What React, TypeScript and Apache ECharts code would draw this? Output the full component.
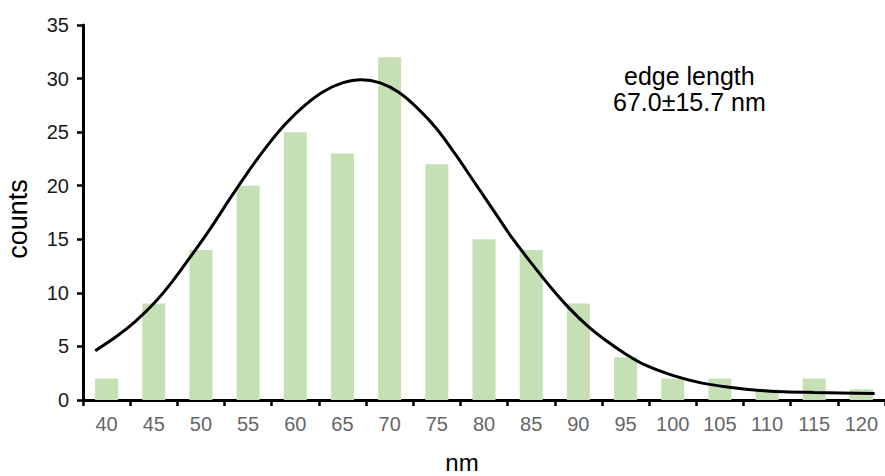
import React, { useEffect, useRef } from "react";
import * as echarts from "echarts";

// Histogram bins (nm) and counts per bin
const binLabels = ["40", "45", "50", "55", "60", "65", "70", "75", "80", "85", "90", "95", "100", "105", "110", "115", "120"];
const binCounts = [2, 9, 14, 20, 25, 23, 32, 22, 15, 14, 9, 4, 2, 2, 1, 2, 1];

// Fitted distribution curve: edge length (nm) and counts
const fitX = [38.8, 41, 43, 45, 47, 49, 51, 53, 55, 57, 59, 61, 63, 65, 67, 69, 71, 73, 75, 77, 79, 81, 83, 85, 87, 89, 91, 93, 95, 97, 100, 103, 106, 110, 115, 121.4];
const fitY = [4.6, 5.9, 7.3, 9.0, 11.1, 13.5, 16.0, 18.7, 21.3, 23.7, 25.8, 27.5, 28.8, 29.6, 29.9, 29.6, 28.7, 27.2, 25.3, 22.9, 20.3, 17.7, 15.1, 12.8, 10.6, 8.6, 6.9, 5.5, 4.3, 3.3, 2.3, 1.6, 1.2, 0.85, 0.7, 0.6];

const yTicks = { min: 0, max: 35, interval: 5 };
const annotation = ["edge length", "67.0\u00B115.7 nm"];

const FONT = "'Liberation Sans', Arial, sans-serif";

export default function App() {
  const ref = useRef<HTMLDivElement>(null);

  useEffect(() => {
    if (!ref.current) return;
    const chart = echarts.init(ref.current, undefined, { renderer: "svg" });

    const fitData = fitX.map((x, i) => [x, fitY[i]]);

    chart.setOption({
      animation: false,
      grid: { left: 83, top: 25, right: -6, bottom: 76, containLabel: false },
      xAxis: [
        {
          type: "category",
          data: binLabels,
          boundaryGap: true,
          axisLine: { show: true, lineStyle: { color: "#000", width: 3 } },
          axisTick: { show: true, length: 6, lineStyle: { color: "#000", width: 2.5 } },
          axisLabel: { color: "#666666", fontSize: 20, fontFamily: FONT, margin: 14 },
          splitLine: { show: false },
        },
        {
          type: "value",
          min: 37.5,
          max: 122.5,
          show: false,
        },
      ],
      yAxis: {
        type: "value",
        min: yTicks.min,
        max: yTicks.max,
        interval: yTicks.interval,
        axisLine: { show: true, lineStyle: { color: "#000", width: 3 } },
        axisTick: { show: true, length: 6, lineStyle: { color: "#000", width: 2.5 } },
        axisLabel: { color: "#1a1a1a", fontSize: 20, fontFamily: FONT, margin: 14 },
        splitLine: { show: false },
      },
      series: [
        {
          type: "bar",
          xAxisIndex: 0,
          data: binCounts,
          barWidth: 23,
          itemStyle: { color: "#C5E0B4" },
        },
        {
          type: "line",
          xAxisIndex: 1,
          data: fitData,
          smooth: 0.3,
          showSymbol: false,
          symbol: "none",
          lineStyle: { color: "#000", width: 3 },
          z: 5,
        },
      ],
      graphic: [
        {
          type: "text",
          left: 624,
          top: 63,
          style: { text: annotation[0], fontSize: 25, fontFamily: FONT, fill: "#000" },
        },
        {
          type: "text",
          left: 613,
          top: 89,
          style: { text: annotation[1], fontSize: 25, fontFamily: FONT, fill: "#000" },
        },
        {
          type: "text",
          x: 462,
          y: 462,
          style: { text: "nm", fontSize: 24, fontFamily: FONT, fill: "#000", align: "center", verticalAlign: "middle" },
        },
        {
          type: "text",
          x: 18,
          y: 219,
          rotation: Math.PI / 2,
          style: { text: "counts", fontSize: 27, fontFamily: FONT, fill: "#000", align: "center", verticalAlign: "middle" },
        },
      ],
    });

    return () => chart.dispose();
  }, []);

  return <div ref={ref} style={{ width: 885, height: 476, position: "absolute", left: 0, top: 0 }} />;
}
